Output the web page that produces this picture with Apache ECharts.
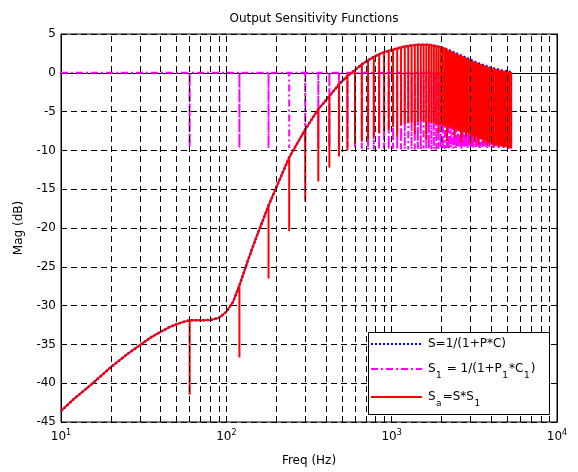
<!DOCTYPE html>
<html>
<head>
<meta charset="utf-8">
<script src="https://cdn.jsdelivr.net/npm/echarts@6.0.0/dist/echarts.min.js"></script>
<style>
  html, body { margin: 0; padding: 0; background: #fff; }
  #chart { width: 578px; height: 472px; }
</style>
</head>
<body>
<div id="chart"></div>
<script>
// S = 1/(1+P*C) (Hz, dB)
const sFreq = [
  10, 12, 15, 20, 25, 30, 35, 40, 45, 50, 55, 60, 70, 80, 90, 100, 110, 120, 135, 150, 165, 180,
  240, 300, 360, 420, 480, 540, 600, 660, 720, 780,
  840, 900, 960, 1020, 1080, 1140, 1200, 1260, 1320, 1380,
  1440, 1500, 1560, 1620, 1680, 1740, 1800, 1860, 1920, 1980,
  2040, 2100, 2160, 2220, 2280, 2340, 2400, 2460, 2520, 2580,
  2640, 2700, 2760, 2820, 2880, 2940, 3000, 3060, 3120, 3180,
  3240, 3300, 3360, 3420, 3480, 3540, 3600, 3660, 3720, 3780,
  3840, 3900, 3960, 4020, 4080, 4140, 4200, 4260, 4320, 4380,
  4440, 4500, 4560, 4620, 4680, 4740, 4800, 4860, 4920, 4980,
  5040, 5100, 5160, 5220, 5280, 5300
]
const sMag = [
  -43.6, -42.0, -40.3, -37.95, -36.3, -35.1, -34.1, -33.4, -32.8, -32.4, -32.1, -31.9, -31.9, -31.85, -31.6, -30.8, -29.5, -27.4, -24.2, -21.5, -19.2, -17.1,
  -10.9, -7.3, -4.7, -3.0, -1.5, -0.4, 0.35, 1.1, 1.6, 2.05,
  2.4, 2.65, 2.85, 3.0, 3.15, 3.28, 3.38, 3.46, 3.52, 3.57,
  3.6, 3.62, 3.63, 3.62, 3.6, 3.56, 3.5, 3.44, 3.37, 3.29,
  3.2, 3.1, 3.0, 2.9, 2.8, 2.7, 2.6, 2.5, 2.4, 2.3,
  2.21, 2.12, 2.03, 1.94, 1.85, 1.76, 1.67, 1.58, 1.5, 1.42,
  1.35, 1.28, 1.21, 1.15, 1.09, 1.03, 0.97, 0.92, 0.87, 0.82,
  0.77, 0.72, 0.68, 0.64, 0.6, 0.56, 0.52, 0.49, 0.46, 0.43,
  0.4, 0.37, 0.34, 0.31, 0.28, 0.26, 0.24, 0.22, 0.2, 0.18,
  0.16, 0.14, 0.12, 0.1, 0.08, 0.07
]

// notches of S1 at the 60 Hz harmonics
const notchFreq = [
  60, 120, 180, 240, 300, 360, 420, 480, 540, 600,
  660, 720, 780, 840, 900, 960, 1020, 1080, 1140, 1200,
  1260, 1320, 1380, 1440, 1500, 1560, 1620, 1680, 1740, 1800,
  1860, 1920, 1980, 2040, 2100, 2160, 2220, 2280, 2340, 2400,
  2460, 2520, 2580, 2640, 2700, 2760, 2820, 2880, 2940, 3000,
  3060, 3120, 3180, 3240, 3300, 3360, 3420, 3480, 3540, 3600,
  3660, 3720, 3780, 3840, 3900, 3960, 4020, 4080, 4140, 4200,
  4260, 4320, 4380, 4440, 4500, 4560, 4620, 4680, 4740, 4800,
  4860, 4920, 4980, 5040, 5100, 5160, 5220, 5280
]
// bottom of each S1 notch (dB)
const s1Depth = [
  -9.6, -9.7, -9.7, -9.7, -9.6, -9.7, -9.6, -9.7, -9.6, -9.7,
  -9.8, -9.9, -9.9, -9.9, -9.8, -9.9, -9.8, -9.9, -9.9, -9.8,
  -9.9, -9.8, -9.9, -9.8, -9.9, -9.8, -9.9, -9.8, -9.9, -9.8,
  -9.9, -9.8, -9.7, -9.9, -9.8, -9.7, -9.9, -9.6, -9.8, -9.7,
  -9.8, -9.6, -9.7, -9.8, -9.5, -9.7, -9.6, -9.8, -9.5, -9.7,
  -9.6, -9.7, -9.4, -9.7, -9.5, -9.6, -9.7, -9.4, -9.6, -9.5,
  -9.6, -9.5, -9.7, -9.4, -9.6, -9.3, -9.5, -9.6, -9.7, -9.5,
  -9.6, -9.4, -9.5, -9.7, -9.5, -9.6, -9.3, -9.6, -9.7, -9.6,
  -8.8, -9.7, -9.7, -9.0, -9.8, -9.7, -9.2, -9.8
]
// bottom of each Sa notch (dB)
const saDepth = [
  -41.5, -36.7, -26.5, -20.4, -16.6, -14.0, -12.2, -10.8, -10.0, -9.2,
  -8.9, -8.6, -8.2, -7.8, -7.5, -7.3, -7.0, -8.2, -6.7, -6.6,
  -6.5, -6.4, -7.9, -6.3, -6.2, -6.3, -8.6, -6.3, -6.4, -6.5,
  -6.6, -7.8, -6.7, -6.8, -6.9, -8.8, -7.0, -7.1, -7.2, -8.3,
  -7.3, -7.4, -7.5, -9.0, -7.6, -7.7, -8.2, -7.8, -7.9, -9.2,
  -8.0, -8.1, -8.9, -8.2, -8.3, -9.3, -8.4, -8.5, -8.6, -9.0,
  -8.7, -8.8, -9.4, -8.9, -9.0, -8.3, -9.1, -9.2, -9.5, -9.2,
  -9.3, -8.6, -9.3, -9.6, -9.4, -9.4, -8.8, -9.5, -9.6, -9.5,
  -7.4, -9.6, -9.6, -7.2, -9.7, -9.6, -7.6, -9.7
]

const gridFreq = [20, 30, 40, 50, 60, 70, 80, 90, 100, 200, 300, 400, 500, 600, 700, 800, 900, 1000,
  2000, 3000, 4000, 5000, 6000, 7000, 8000, 9000]

// legend labels as [text, isSubscript] runs
const legendLabels = [
  [["S=1/(1+P*C)", 0]],
  [["S", 0], ["1", 1], [" = 1/(1+P", 0], ["1", 1], ["*C", 0], ["1", 1], [")", 0]],
  [["S", 0], ["a", 1], ["=S*S", 0], ["1", 1]]
]

const fontName = "DejaVu Sans"

// build the polylines
const sData = sFreq.map((f, i) => [f, sMag[i]])

const notchIndex = {}
notchFreq.forEach((f, i) => { notchIndex[f] = i })

const s1Data = [[sFreq[0], 0]]
notchFreq.forEach((f, i) => {
  s1Data.push([f, 0], [f, s1Depth[i]], [f, 0])
})
s1Data.push([sFreq[sFreq.length - 1], 0])

const saData = []
sFreq.forEach((f, i) => {
  saData.push([f, sMag[i]])
  if (notchIndex[f] !== undefined) {
    saData.push([f, saDepth[notchIndex[f]]], [f, sMag[i]])
  }
})

const lineStyles = [
  { stroke: "#0000ff", lineWidth: 2, lineDash: [2, 2] },
  { stroke: "#ff00ff", lineWidth: 2, lineDash: [7, 3, 2, 3] },
  { stroke: "#ff0000", lineWidth: 2 }
]

// hand-made legend box
const measure = document.createElement("canvas").getContext("2d")
const legendChildren = [{
  type: "rect",
  z: 100,
  shape: { x: 0.5, y: 0.5, width: 181, height: 82 },
  style: { fill: "#fff", stroke: "#000", lineWidth: 1 }
}]
const rowY = [12, 37, 65]
legendLabels.forEach((runs, r) => {
  legendChildren.push({
    type: "line",
    z: 101,
    shape: { x1: 3, y1: rowY[r], x2: 54, y2: rowY[r] },
    style: lineStyles[r]
  })
  let x = 60
  runs.forEach(([t, sub]) => {
    const size = sub ? 9 : 12
    measure.font = size + "px '" + fontName + "'"
    legendChildren.push({
      type: "text",
      z: 101,
      x: x,
      y: rowY[r] + (sub ? 7 : 0),
      style: { text: t, fontFamily: fontName, fontSize: size, fill: "#000", align: "left", verticalAlign: "middle" }
    })
    x += measure.measureText(t).width + (sub ? 1 : 0.5)
  })
})

const chart = echarts.init(document.getElementById("chart"))

const axisText = { fontFamily: fontName, fontSize: 12, color: "#000" }

const option = {
  animation: false,
  backgroundColor: "#fff",
  title: {
    text: "Output Sensitivity Functions",
    left: 309,
    top: 8,
    textAlign: "center",
    textStyle: { fontFamily: fontName, fontSize: 12, fontWeight: "normal", color: "#000" }
  },
  grid: {
    left: 61, right: 21, top: 34, bottom: 48,
    show: true, borderColor: "#000", borderWidth: 1
  },
  graphic: [{ type: "group", x: 368, y: 332, children: legendChildren }],
  xAxis: [{
    type: "log",
    logBase: 10,
    min: 10,
    max: 10000,
    name: "Freq (Hz)",
    nameLocation: "middle",
    nameGap: 33,
    nameTextStyle: axisText,
    axisLine: { show: true, lineStyle: { color: "#000", width: 1 } },
    axisTick: { show: true, inside: true, length: 5, lineStyle: { color: "#000" } },
    axisLabel: {
      margin: 7,
      formatter: (v) => "{b|10}{p|" + Math.round(Math.log10(v)) + "}",
      rich: {
        b: { fontFamily: fontName, fontSize: 12, color: "#000", lineHeight: 12, padding: [4, 0, 0, 0] },
        p: { fontFamily: fontName, fontSize: 8, color: "#000", lineHeight: 8, verticalAlign: "top" }
      }
    },
    splitLine: { show: false }
  }, {
    type: "log",
    logBase: 10,
    min: 10,
    max: 10000,
    position: "top",
    axisLine: { show: true, lineStyle: { color: "#000", width: 1 } },
    axisTick: { show: true, inside: true, length: 5, lineStyle: { color: "#000" } },
    axisLabel: { show: false },
    splitLine: { show: false }
  }],
  yAxis: [{
    type: "value",
    min: -45,
    max: 5,
    interval: 5,
    name: "Mag (dB)",
    nameLocation: "middle",
    nameGap: 36,
    nameTextStyle: axisText,
    axisLine: { show: true, lineStyle: { color: "#000", width: 1 } },
    axisTick: { show: true, inside: true, length: 5, lineStyle: { color: "#000" } },
    axisLabel: { margin: 5, fontFamily: fontName, fontSize: 12, color: "#000" },
    splitLine: { show: true, lineStyle: { color: "#000", width: 1, type: [6, 4] } }
  }, {
    type: "value",
    min: -45,
    max: 5,
    interval: 5,
    position: "right",
    axisLine: { show: true, lineStyle: { color: "#000", width: 1 } },
    axisTick: { show: true, inside: true, length: 5, lineStyle: { color: "#000" } },
    axisLabel: { show: false },
    splitLine: { show: false }
  }],
  series: [
    {
      name: "grid",
      type: "line",
      data: [],
      z: 1,
      silent: true,
      markLine: {
        silent: true,
        symbol: ["none", "none"],
        label: { show: false },
        lineStyle: { color: "#000", width: 1, type: [6, 4] },
        data: gridFreq.map((f) => ({ xAxis: f }))
      }
    },
    {
      name: "S",
      type: "line",
      data: sData,
      z: 2,
      symbol: "none",
      itemStyle: { color: "#0000ff" },
      lineStyle: { color: "#0000ff", width: 2.5, type: [2, 2] }
    },
    {
      name: "S1",
      type: "line",
      data: s1Data,
      z: 3,
      symbol: "none",
      itemStyle: { color: "#ff00ff" },
      lineStyle: { color: "#ff00ff", width: 2, type: [7, 3, 2, 3] }
    },
    {
      name: "Sa",
      type: "line",
      data: saData,
      z: 4,
      symbol: "none",
      itemStyle: { color: "#ff0000" },
      lineStyle: { color: "#ff0000", width: 2 }
    }
  ]
}

chart.setOption(option)
</script>
</body>
</html>
